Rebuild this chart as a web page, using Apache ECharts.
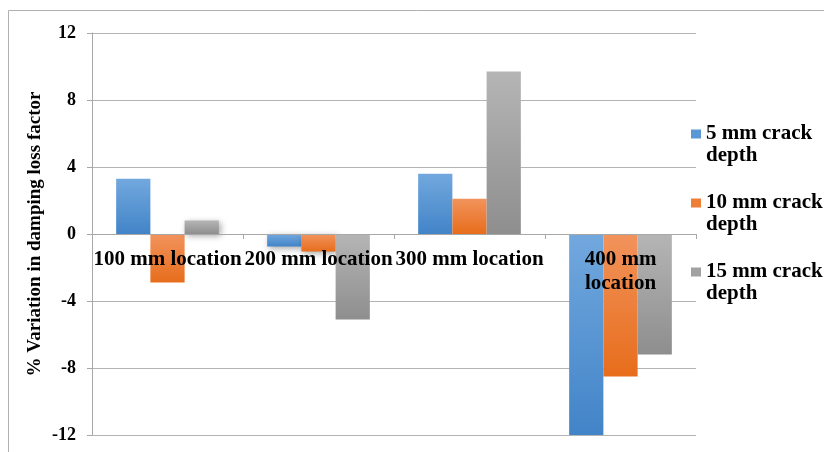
<!DOCTYPE html>
<html>
<head>
<meta charset="utf-8">
<script src="https://cdn.jsdelivr.net/npm/echarts@6/dist/echarts.min.js"></script>
<style>
  html, body { margin: 0; padding: 0; background: #fff; }
  #chart { width: 824px; height: 452px; }
</style>
</head>
<body>
<div id="chart"></div>
<script>
// Crack locations along the beam
const categories = ['100 mm location', '200 mm location', '300 mm location', '400 mm location'];
const categoryLabels = ['100 mm location', '200 mm location', '300 mm location', '400 mm\nlocation'];

// % variation in damping loss factor for each crack depth
const seriesNames = ['5 mm crack depth', '10 mm crack depth', '15 mm crack depth'];
const depth5 = [3.3, -0.75, 3.6, -12];
const depth10 = [-2.9, -1.05, 2.1, -8.5];
const depth15 = [0.8, -5.1, 9.7, -7.2];

const yTicks = { min: -12, max: 12, interval: 4 };

const serif = '"Liberation Serif", "Times New Roman", serif';

function grad(top, bottom) {
  return new echarts.graphic.LinearGradient(0, 0, 0, 1, [
    { offset: 0, color: top },
    { offset: 1, color: bottom }
  ]);
}
const fills = [
  grad('#72a8de', '#4284c8'),
  grad('#f2935c', '#e76d1c'),
  grad('#b5b5b5', '#8e8e8e')
];
const iconFills = ['#5a97d6', '#ee7d36', '#a2a2a2'];

const values = [depth5, depth10, depth15];

// Legend marker: a square level with the first text line of a two-line entry
// (tiny corner specks pin the path's box to the full item height)
const legendIcon = 'path://M0,0h0.01v0.01h-0.01z M0,6.5h10v9h-10z M0,43.99h0.01v0.01h-0.01z';

const grid = { left: 92, right: 128, top: 33, bottom: 17 };

const chart = echarts.init(document.getElementById('chart'), null, { renderer: 'canvas' });

const option = {
  animation: false,
  backgroundColor: '#ffffff',
  graphic: [{
    type: 'rect',
    shape: { x: 8.5, y: 10.5, width: 900, height: 500 },
    style: { fill: 'none', stroke: '#b0b0b0', lineWidth: 1 },
    silent: true,
    z: -10
  }],
  grid: Object.assign({ containLabel: false, outerBoundsMode: 'none' }, grid),
  legend: {
    orient: 'vertical',
    left: 691,
    top: 123,
    padding: 0,
    itemWidth: 10,
    itemHeight: 44,
    itemGap: 25,
    icon: legendIcon,
    data: seriesNames.map((name, k) => ({ name, itemStyle: { color: iconFills[k] } })),
    formatter: name => name.replace(' depth', '\ndepth'),
    textStyle: {
      fontFamily: serif,
      fontWeight: 'bold',
      fontSize: 21,
      lineHeight: 22,
      color: '#000'
    }
  },
  xAxis: {
    type: 'category',
    data: categories,
    z: 5,
    offset: 0,
    axisLine: { onZero: false, lineStyle: { color: '#a8a8a8', width: 1 } },
    axisTick: { show: true, length: 5, alignWithLabel: false, lineStyle: { color: '#a8a8a8' } },
    axisLabel: {
      interval: 0,
      hideOverlap: false,
      margin: 14,
      fontFamily: serif,
      fontWeight: 'bold',
      fontSize: 21,
      lineHeight: 24,
      color: '#000',
      formatter: (v, i) => categoryLabels[i]
    },
    splitLine: { show: false }
  },
  yAxis: {
    type: 'value',
    min: yTicks.min,
    max: yTicks.max,
    interval: yTicks.interval,
    name: '% Variation in damping loss factor',
    nameLocation: 'middle',
    nameRotate: 90,
    nameGap: 47,
    nameMoveOverlap: false,
    nameTextStyle: {
      fontFamily: serif,
      fontWeight: 'bold',
      fontSize: 19,
      color: '#000'
    },
    axisLine: { show: true, lineStyle: { color: '#a8a8a8', width: 1 } },
    axisTick: { show: true, length: 5, lineStyle: { color: '#a8a8a8' } },
    axisLabel: {
      margin: 16,
      fontFamily: serif,
      fontWeight: 'bold',
      fontSize: 18,
      color: '#000'
    },
    splitLine: { show: true, lineStyle: { color: '#b4b4b4', width: 1 } }
  },
  series: seriesNames.map((name, k) => ({
    name,
    type: 'bar',
    data: values[k],
    barGap: '0%',
    barCategoryGap: '32%',
    itemStyle: {
      color: fills[k],
      shadowColor: 'rgba(0,0,0,0.35)',
      shadowBlur: 6,
      shadowOffsetX: 2,
      shadowOffsetY: 2
    }
  }))
};

chart.setOption(option);

// Lift the category axis (line, ticks and labels) up to the value-axis zero line
const zeroY = chart.convertToPixel({ yAxisIndex: 0 }, 0);
const bottomY = chart.getHeight() - grid.bottom;
chart.setOption({ xAxis: { offset: zeroY - bottomY } });
</script>
</body>
</html>
